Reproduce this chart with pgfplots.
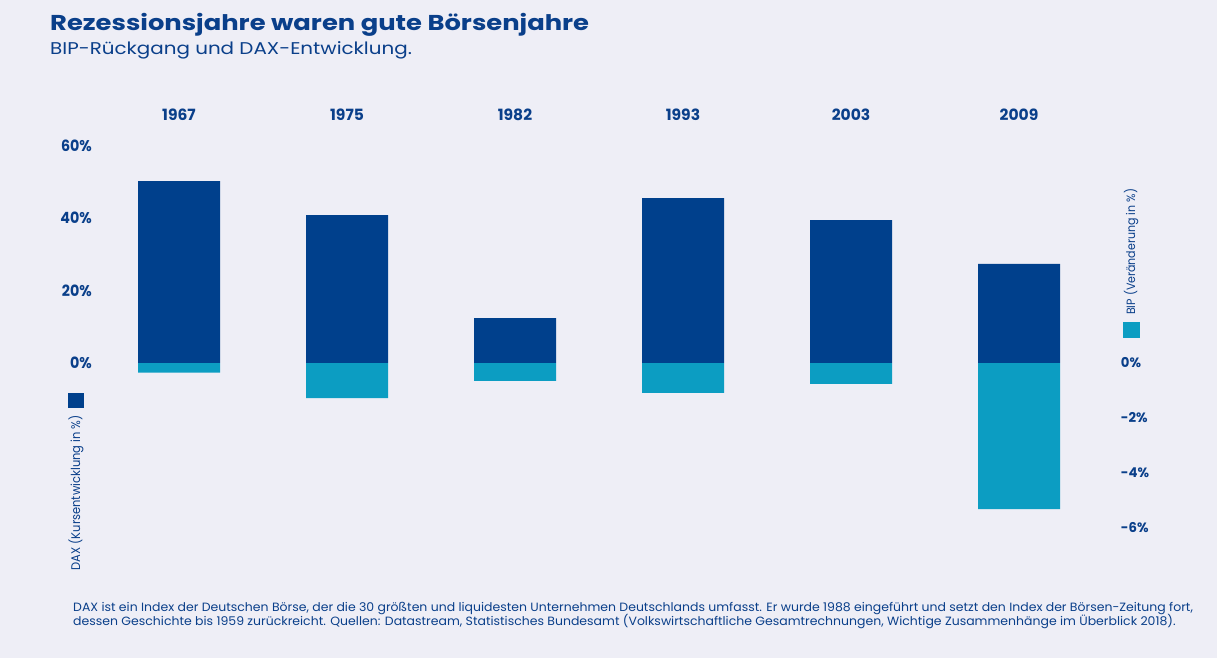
\documentclass[border=0pt]{standalone}
\usepackage{fontspec}
\setmainfont{Poppins}
\newfontfamily\titlefont[FakeStretch=1.2]{Poppins}
\newfontfamily\subfont[FakeStretch=1.17]{Poppins}
\newfontfamily\yearfont[FakeStretch=1.0]{Poppins}
\newfontfamily\tickfont[FakeStretch=0.92]{Poppins}
\newfontfamily\rtickfont[FakeStretch=0.98]{Poppins}
\newfontfamily\notefont[FakeStretch=1.04]{Poppins}
\newfontfamily\legfont[FakeStretch=0.92]{Poppins}
\usepackage{pgfplots}
\pgfplotsset{compat=1.18}
\definecolor{bg}{HTML}{EEEEF6}
\definecolor{dax}{HTML}{00408C}
\definecolor{bip}{HTML}{0C9DC2}
\definecolor{txt}{HTML}{0A3F8A}
\begin{document}
\begin{tikzpicture}[x=1pt,y=1pt]
\fill[bg] (0,0) rectangle (1217,658);
\node[anchor=base west, inner sep=0, text=txt, font=\titlefont\fontsize{21.5}{21.5}\selectfont\bfseries] at (50,627) {Rezessionsjahre waren gute Börsenjahre};
\node[anchor=base west, inner sep=0, text=txt, font=\subfont\fontsize{17}{17}\selectfont] at (50,603) {BIP-Rückgang und DAX-Entwicklung.};
% DAX axis (left)
\begin{axis}[at={(90pt,98pt)}, anchor=south west, scale only axis,
  width=1025pt, height=435pt,
  xmin=-0.5298, xmax=5.5714, ymin=-54.47, ymax=65.80,
  ybar, bar width=82pt, bar shift=0pt,
  axis line style={draw=none}, tick style={draw=none},
  xtick={0,1,2,3,4,5},
  xticklabels={1967,1975,1982,1993,2003,2009},
  xticklabel pos=upper,
  xticklabel style={anchor=base, inner sep=0pt, yshift=0.3pt, text=txt, font=\yearfont\bfseries\fontsize{15.5}{15.5}\selectfont},
  ytick={0,20,40,60},
  yticklabels={0\%,20\%,40\%,60\%},
  yticklabel style={anchor=east, inner sep=0pt, xshift=2pt, text=txt, font=\tickfont\bfseries\fontsize{15.5}{15.5}\selectfont},
  clip=false]
\addplot[fill=dax, draw=none] coordinates {(0,50.3) (1,40.9) (2,12.4) (3,45.6) (4,39.5) (5,27.4)};
\end{axis}
% BIP axis (right)
\begin{axis}[at={(90pt,98pt)}, anchor=south west, scale only axis,
  width=1025pt, height=435pt,
  xmin=-0.5298, xmax=5.5714, ymin=-7.164, ymax=8.655,
  ybar, bar width=82pt, bar shift=0pt,
  axis line style={draw=none}, tick style={draw=none},
  xtick=\empty,
  ytick={-6,-4,-2,0},
  yticklabels={-6\%,-4\%,-2\%,0\%},
  yticklabel pos=right,
  yticklabel style={anchor=west, inner sep=0pt, xshift=5.7pt, text=txt, font=\rtickfont\bfseries\fontsize{13.5}{13.5}\selectfont},
  clip=false]
\addplot[fill=bip, draw=none] coordinates {(0,-0.35) (1,-1.28) (2,-0.65) (3,-1.09) (4,-0.76) (5,-5.31)};
\end{axis}
% legend keys
\fill[dax] (67.5,250) rectangle (84,265);
\node[rotate=90, anchor=east, inner sep=0, text=txt, font=\legfont\fontsize{12.5}{12.5}\selectfont] at (76,243) {DAX (Kursentwicklung in \%)};
\fill[bip] (1122.5,320) rectangle (1139.5,336);
\node[rotate=90, anchor=west, inner sep=0, text=txt, font=\legfont\fontsize{12}{12}\selectfont] at (1131,343) {BIP (Veränderung in \%)};
% footnote
\node[anchor=base west, inner sep=0, text=txt, font=\notefont\fontsize{12}{12}\selectfont] at (73,46) {DAX ist ein Index der Deutschen Börse, der die 30 größten und liquidesten Unternehmen Deutschlands umfasst. Er wurde 1988 eingeführt und setzt den Index der Börsen-Zeitung fort,};
\node[anchor=base west, inner sep=0, text=txt, font=\notefont\fontsize{12}{12}\selectfont] at (73,32) {dessen Geschichte bis 1959 zurückreicht. Quellen: Datastream, Statistisches Bundesamt (Volkswirtschaftliche Gesamtrechnungen, Wichtige Zusammenhänge im Überblick 2018).};
\end{tikzpicture}
\end{document}
